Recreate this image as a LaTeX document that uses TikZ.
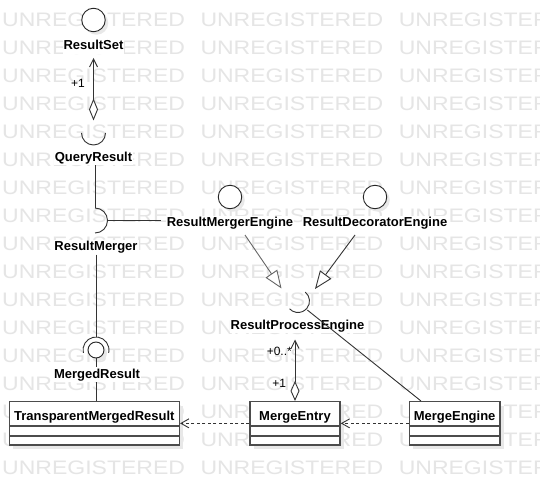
\documentclass[tikz,border=0pt]{standalone}
\usepackage{fontspec}
\setmainfont{Liberation Sans}
\usetikzlibrary{arrows.meta,calc}
\begin{document}
\begin{tikzpicture}[x=1pt,y=-1pt,
  lbl/.style={font=\bfseries\fontsize{13}{15}\selectfont, fill=white, inner sep=1pt, text height=9.5pt, text depth=2.8pt, anchor=base},
  mult/.style={font=\fontsize{12}{14}\selectfont, inner sep=0pt},
  wmark/.style={font=\fontsize{19.5}{20}\selectfont, text=black!10, anchor=west, inner sep=0pt},
  ln/.style={draw=black!80, line width=0.9pt},
  iface/.style={circle, draw=black!85, line width=0.9pt, fill=white, inner sep=0pt, minimum size=23.5pt},
  umlbox/.style={draw=black!70, line width=1.5pt, fill=white, inner sep=0pt, minimum height=43.3pt},
  umlline/.style={draw=black!70, line width=1.5pt},
  boxtxt/.style={font=\bfseries\fontsize{13}{15}\selectfont, inner sep=0pt, anchor=base},
  shadow/.style={fill=black!9, draw=none},
  dep/.style={draw=black!80, line width=0.9pt, dash pattern=on 3pt off 2.5pt, -{Straight Barb[length=8pt,width=9pt]}},
  gen/.style={ln, -{Triangle[length=18pt,width=14pt,fill=white]}},
  agg/.style={ln, {Diamond[length=#1,width=9pt,fill=white]}-{Straight Barb[length=8pt,width=8pt]}},
]
\useasboundingbox (0,0) rectangle (540,486);
\fill[white] (0,0) rectangle (540,486);
% watermark
\begin{scope}
\clip (0,0) rectangle (540,486);
\foreach \r in {0,...,17} {
  \foreach \c in {0,1,2} {
    \node[wmark] (wm-\r-\c) at ({2+198.3*\c},{20+28*\r}) {\scalebox{1.18}[1]{UNREGISTERED}};
  }
}
\end{scope}
% shadows
\fill[shadow] (96.5,23) circle (11.75);
\fill[shadow] (233,200) circle (11.75);
\fill[shadow] (378,200) circle (11.75);
\fill[shadow] (99,353) circle (8);
\fill[shadow] (13.3,405.7) rectangle (183.3,449);
\fill[shadow] (254,405.7) rectangle (344,449);
\fill[shadow] (413.3,405.7) rectangle (504,449);
% interfaces and labels
\node[iface] (rsC) at (93.5,20) {};
\node[lbl] (rsL) at (93.5,50) {ResultSet};
\node[lbl] (qrL) at (93.5,161.5) {QueryResult};
\node[lbl] (rmL) at (96,250.7) {ResultMerger};
\node[iface, minimum size=16pt] (mrC) at (96,350) {};
\node[lbl] (mrL) at (97,378) {MergedResult};
\node[iface] (rmeC) at (230,197) {};
\node[lbl] (rmeL) at (230,226.7) {ResultMergerEngine};
\node[iface] (rdeC) at (375,197) {};
\node[lbl] (rdeL) at (375,226.7) {ResultDecoratorEngine};
\node[lbl] (rpeL) at (297.5,329.5) {ResultProcessEngine};
% classes
\node[umlbox, minimum width=170pt] (tmr) at (94.3,423.35) {};
\node[boxtxt] (tmrT) at (94.3,420) {TransparentMergedResult};
\node[umlbox, minimum width=90pt] (mentry) at (295,423.35) {};
\node[boxtxt] (mentryT) at (295,420) {MergeEntry};
\node[umlbox, minimum width=90.7pt] (mengine) at (454.65,423.35) {};
\node[boxtxt] (mengineT) at (454.65,420) {MergeEngine};
\foreach \b in {tmr,mentry,mengine} {
  \draw[umlline] ($(\b.north west)+(0.75,25)$) -- ($(\b.north east)+(-0.75,25)$);
  \draw[umlline] ($(\b.north west)+(0.75,35)$) -- ($(\b.north east)+(-0.75,35)$);
}
% sockets
\coordinate (qrC) at (93.5,133);
\draw[ln] ($(qrC)+(-12,0)$) arc[start angle=180, end angle=0, radius=12];
\coordinate (qrTop) at (93.5,120.5);
\coordinate (rmTop) at (95,208);
\coordinate (rmRight) at (107.5,220.5);
\draw[ln] (rmTop) arc[start angle=-90, end angle=90, radius=12.5];
\coordinate (mrTop) at (96,337);
\draw[ln] ($(mrC)+(167:13)$) arc[start angle=167, end angle=373, radius=13];
\coordinate (rpeC) at (298,301);
\draw[ln] ($(rpeC)+(-51:11.5)$) arc[start angle=-51, end angle=137, radius=11.5];
\coordinate (rpeS) at ($(rpeC)+(44:13)$);
% connectors
\draw[agg=22pt, shorten >=4pt] (qrTop) -- (rsL.south);
\node[mult] (m1) at (78,83) {+1};
\draw[ln] (rmTop |- qrL.south) -- (rmTop);
\draw[ln, shorten >=5pt] (rmRight) -- (rmRight -| rmeL.west);
\draw[ln] (rmL.south -| mrTop) -- (mrTop);
\draw[ln] (mrC.south) -- (mrL.north -| mrC.south);
\draw[ln] (mrL.south -| mrC.south) -- (tmr.north -| mrC.south);
\coordinate (g1s) at (245,235);
\coordinate (g1t) at (281.5,288.5);
\coordinate (g2s) at (355,235);
\coordinate (g2t) at (315,289);
\draw[gen, draw=black!60] (g1s) -- (g1t);
\draw[gen] (g2s) -- (g2t);
\draw[agg=20pt, shorten >=6pt] (mentry.north) -- (mentry.north |- rpeL.south);
\node[mult] (m2) at (279.3,383.3) {+1};
\node[mult, anchor=east] (m3) at (292,351.5) {+0..*};
\coordinate (meTop) at ($(mengine.north west)+(12.4,0)$);
\draw[ln] (meTop) -- (rpeS);
\draw[dep] (mentry.west) -- (tmr.east);
\draw[dep] (mengine.west) -- (mentry.east);
\end{tikzpicture}
\end{document}
